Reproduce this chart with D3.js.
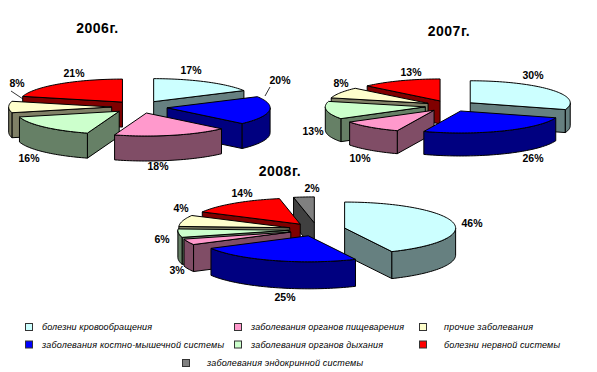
<!DOCTYPE html>
<html>
<head>
<meta charset="utf-8">
<style>
  html, body { margin: 0; padding: 0; background: #fff; }
  svg { display: block; }
  text { font-family: "Liberation Sans", Arial, sans-serif; fill: #000; }
</style>
<script src="https://cdn.jsdelivr.net/npm/d3@7"></script>
</head>
<body>
<div id="chart"></div>
<script>
// Three exploded 3D pies (2006, 2007, 2008) sharing one legend

const categories = [
  "болезни кровообращения",
  "заболевания костно-мышечной системы",
  "заболевания органов пищеварения",
  "заболевания органов дыхания",
  "прочие заболевания",
  "болезни нервной системы",
  "заболевания эндокринной системы"
];

const values2006 = [17, 20, 18, 16, 8, 21];
const values2007 = [30, 26, 10, 13, 8, 13];
// the 2008 slices are not drawn to their printed percentages, so sweeps and labels are kept apart
const values2008 = [43, 24, 3.6, 5.2, 7, 14.2, 3];
const labels2006 = ["17%", "20%", "18%", "16%", "8%", "21%"];
const labels2007 = ["30%", "26%", "10%", "13%", "8%", "13%"];
const labels2008 = ["46%", "25%", "3%", "6%", "4%", "14%", "2%"];

const topColors = ["#CCFFFF", "#0000FF", "#FF99CC", "#CCFFCC", "#FFFFCC", "#FF0000", "#808080"];
const wallColors = ["#668080", "#000080", "#804D66", "#668066", "#808066", "#800000", "#404040"];

const WIDTH = 597, HEIGHT = 372;

const svg = d3.select("#chart").append("svg")
  .attr("width", WIDTH)
  .attr("height", HEIGHT);

// layout of each pie: centre, ellipse radii, extrusion, explosion (share of radius), hand placed text
const pies = [
  {
    title: "2006г.", titleX: 97.5, titleY: 33,
    values: values2006, labels: labels2006,
    cx: 139.5, cy: 107, rx: 103, ry: 23, depth: 25, explode: 0.27,
    labelPos: [[191, 74], [280, 84], [158, 170], [29, 162], [17, 87], [74, 77]],
    leaders: [[[270, 87], [265, 96]], [[11, 91], [23, 99]]]
  },
  {
    title: "2007г.", titleX: 449, titleY: 36,
    values: values2007, labels: labels2007,
    cx: 450, cy: 106, rx: 100, ry: 22, depth: 23, explode: 0.25,
    labelPos: [[533, 79], [533, 162], [360, 162], [313, 135], [341, 87], [411, 76]],
    leaders: []
  },
  {
    title: "2008г.", titleX: 280, titleY: 176,
    values: values2008, labels: labels2008,
    cx: 317, cy: 229.5, rx: 111, ry: 26, depth: 27, explode: 0.255,
    labelPos: [[472, 227], [285, 301], [177, 274], [162, 243], [181, 212], [242, 197], [312, 192]],
    leaders: []
  }
];

const line = d3.line();
const pie = d3.pie().sort(null).value(d => d);

function drawPie(cfg) {
  const g = svg.append("g");

  // unit pie coordinates -> screen
  const x = d3.scaleLinear().domain([-1, 1]).range([cfg.cx - cfg.rx, cfg.cx + cfg.rx]);
  const y = d3.scaleLinear().domain([-1, 1]).range([cfg.cy - cfg.ry, cfg.cy + cfg.ry]);

  const slices = pie(cfg.values).map((d, i) => {
    const mid = (d.startAngle + d.endAngle) / 2;
    return {
      a0: d.startAngle, a1: d.endAngle, mid, i,
      ox: cfg.explode * Math.sin(mid),
      oy: -cfg.explode * Math.cos(mid)
    };
  });

  const rimPoint = (s, a, dz = 0) => [
    x(s.ox + Math.sin(a)),
    y(s.oy - Math.cos(a)) + dz
  ];
  const apex = (s, dz = 0) => [x(s.ox), y(s.oy) + dz];
  const rim = (s, a0, a1, dz = 0) => {
    const n = Math.max(2, Math.ceil((a1 - a0) / 0.03));
    return d3.range(n + 1).map(k => rimPoint(s, a0 + (a1 - a0) * k / n, dz));
  };

  // back slices first
  const order = slices.slice().sort((a, b) => d3.ascending(-Math.cos(a.mid), -Math.cos(b.mid)));

  const shape = (pts, fill) => g.append("path")
    .attr("d", line(pts) + "Z")
    .attr("fill", fill)
    .attr("stroke", "#000")
    .attr("stroke-width", 1)
    .attr("stroke-linejoin", "round");

  order.forEach(s => {
    const wall = wallColors[s.i];
    const d = cfg.depth;

    // radial walls, only the ones facing us
    if (Math.sin(s.a0) < -1e-6) {
      shape([apex(s), rimPoint(s, s.a0), rimPoint(s, s.a0, d), apex(s, d)], wall);
    }
    if (Math.sin(s.a1) > 1e-6) {
      shape([apex(s), rimPoint(s, s.a1), rimPoint(s, s.a1, d), apex(s, d)], wall);
    }

    // outer wall, front half of the ellipse only
    const f0 = Math.max(s.a0, Math.PI / 2), f1 = Math.min(s.a1, Math.PI * 1.5);
    if (f1 > f0) {
      shape(rim(s, f0, f1).concat(rim(s, f0, f1, d).reverse()), wall);
    }

    // top face
    shape([apex(s)].concat(rim(s, s.a0, s.a1)), topColors[s.i]);
  });

  g.selectAll("text.pct")
    .data(cfg.labels)
    .join("text")
      .attr("class", "pct")
      .attr("x", (d, i) => cfg.labelPos[i][0])
      .attr("y", (d, i) => cfg.labelPos[i][1])
      .attr("text-anchor", "middle")
      .attr("font-size", 10.5)
      .attr("font-weight", "bold")
      .text(d => d);

  g.selectAll("line.leader")
    .data(cfg.leaders)
    .join("line")
      .attr("class", "leader")
      .attr("x1", d => d[0][0]).attr("y1", d => d[0][1])
      .attr("x2", d => d[1][0]).attr("y2", d => d[1][1])
      .attr("stroke", "#000")
      .attr("stroke-width", 0.8);

  g.append("text")
    .attr("x", cfg.titleX)
    .attr("y", cfg.titleY)
    .attr("text-anchor", "middle")
    .attr("font-size", 14)
    .attr("font-weight", "bold")
    .attr("letter-spacing", 0.5)
    .text(cfg.title);
}

pies.forEach(drawPie);

// legend: swatch x, text x, text width, row y for each category
const legendPos = [
  [29, 42, 110, 327],
  [29, 42, 182, 344.5],
  [238, 251, 153, 327],
  [238, 251, 132, 344.5],
  [423, 444, 89, 327],
  [423, 444, 116, 344.5],
  [186, 207, 156, 363]
];

const legend = svg.append("g").selectAll("g")
  .data(categories)
  .join("g");

legend.append("rect")
  .attr("x", (d, i) => legendPos[i][0] - 3.5)
  .attr("y", (d, i) => legendPos[i][3] - 3.5)
  .attr("width", 7)
  .attr("height", 7)
  .attr("fill", (d, i) => topColors[i])
  .attr("stroke", "#333")
  .attr("stroke-width", 1);

legend.append("text")
  .attr("x", (d, i) => legendPos[i][1])
  .attr("y", (d, i) => legendPos[i][3] + 3)
  .attr("font-size", 9)
  .attr("font-style", "italic")
  .attr("textLength", (d, i) => legendPos[i][2])
  .attr("lengthAdjust", "spacing")
  .text(d => d);
</script>
</body>
</html>
